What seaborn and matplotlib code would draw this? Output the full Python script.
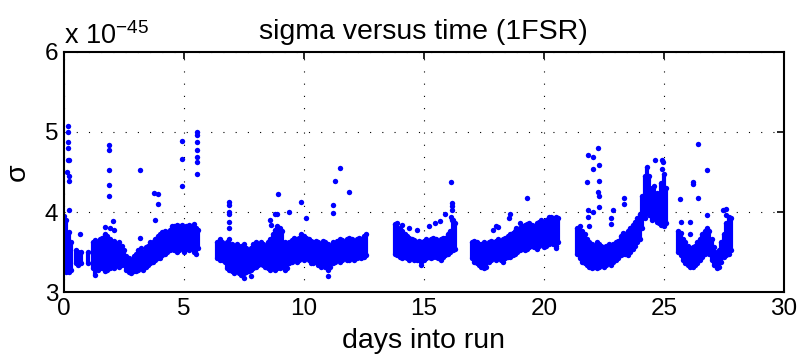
import numpy as np
import pandas as pd
import matplotlib
matplotlib.use('Agg')
import matplotlib.pyplot as plt
import seaborn as sns

# sampling step of the dense band (days)
step = 0.1

# band of the dense cloud per run segment: first day, lower and upper edge (x 1e-45)
seg_start = [0.0, 6.4, 13.8, 17.0, 21.4, 25.6]
seg_lo = [
    [3.30, 3.25, 3.25, 3.28, np.nan, 3.36, 3.34, 3.36, np.nan, np.nan, 3.37, np.nan,
     3.30, 3.22, 3.28, 3.30, 3.30, 3.26, 3.28, 3.30, 3.32, 3.30, 3.34, 3.32, 3.34,
     3.36, 3.28, 3.25, 3.24, 3.26, 3.26, 3.28, 3.30, 3.28, 3.32, 3.34, 3.36, 3.38,
     3.40, 3.42, 3.42, 3.46, 3.48, 3.50, 3.52, 3.54, 3.52, 3.50, 3.52, 3.55, 3.50,
     3.54, 3.52, 3.55, 3.50, 3.48, 3.55],
    [3.42, 3.40, 3.40, 3.38, 3.30, 3.28, 3.26, 3.24, 3.26, 3.24, 3.22, 3.24, 3.25,
     3.27, 3.28, 3.30, 3.32, 3.34, 3.35, 3.34, 3.32, 3.30, 3.28, 3.30, 3.28, 3.30,
     3.30, 3.32, 3.28, 3.30, 3.36, 3.38, 3.40, 3.38, 3.40, 3.42, 3.40, 3.42, 3.40,
     3.36, 3.36, 3.38, 3.34, 3.32, 3.34, 3.32, 3.28, 3.32, 3.36, 3.38, 3.40, 3.38,
     3.40, 3.42, 3.40, 3.40, 3.42, 3.40, 3.42, 3.44, 3.42, 3.44, 3.46],
    [3.48, 3.46, 3.44, 3.42, 3.44, 3.42, 3.40, 3.42, 3.40, 3.40, 3.40, 3.38, 3.40,
     3.42, 3.44, 3.42, 3.44, 3.44, 3.42, 3.40, 3.44, 3.46, 3.48, 3.50, 3.52, 3.54],
    [3.42, 3.38, 3.36, 3.34, 3.32, 3.30, 3.32, 3.38, 3.40, 3.42, 3.40, 3.42, 3.40,
     3.38, 3.42, 3.44, 3.44, 3.46, 3.48, 3.50, 3.52, 3.54, 3.52, 3.54, 3.56, 3.58,
     3.56, 3.54, 3.58, 3.60, 3.56, 3.58, 3.60, 3.62, 3.60, 3.58, 3.62],
    [3.48, 3.42, 3.38, 3.36, 3.34, 3.32, 3.30, 3.32, 3.30, 3.32, 3.34, 3.32, 3.34,
     3.36, 3.34, 3.38, 3.40, 3.42, 3.46, 3.48, 3.48, 3.46, 3.50, 3.54, 3.58, 3.62,
     3.66, 3.80, 3.92, 4.00, 3.96, 3.90, 3.92, 3.88, 3.86, 3.84, 3.82, 3.86],
    [3.50, 3.46, 3.40, 3.36, 3.34, 3.32, 3.32, 3.34, 3.36, 3.40, 3.44, 3.48, 3.52,
     3.48, 3.40, 3.34, 3.30, 3.32, 3.38, 3.44, 3.46, 3.48, 3.52],
]
seg_hi = [
    [3.95, 3.90, 3.75, 3.62, np.nan, 3.52, 3.50, 3.50, np.nan, np.nan, 3.50, np.nan,
     3.62, 3.65, 3.62, 3.66, 3.68, 3.72, 3.70, 3.66, 3.62, 3.64, 3.60, 3.62, 3.58,
     3.52, 3.45, 3.42, 3.40, 3.45, 3.48, 3.52, 3.55, 3.50, 3.56, 3.58, 3.62, 3.62,
     3.66, 3.70, 3.72, 3.75, 3.76, 3.75, 3.78, 3.82, 3.82, 3.84, 3.82, 3.84, 3.80,
     3.82, 3.84, 3.82, 3.85, 3.80, 3.78],
    [3.62, 3.66, 3.62, 3.60, 3.62, 3.66, 3.60, 3.58, 3.60, 3.56, 3.58, 3.60, 3.55,
     3.52, 3.55, 3.60, 3.62, 3.60, 3.62, 3.60, 3.58, 3.62, 3.66, 3.72, 3.78, 3.82,
     3.80, 3.76, 3.62, 3.58, 3.62, 3.65, 3.68, 3.66, 3.68, 3.72, 3.70, 3.68, 3.66,
     3.64, 3.62, 3.64, 3.62, 3.60, 3.64, 3.62, 3.60, 3.58, 3.62, 3.60, 3.64, 3.66,
     3.65, 3.62, 3.66, 3.68, 3.66, 3.64, 3.66, 3.68, 3.66, 3.70, 3.72],
    [3.85, 3.86, 3.80, 3.76, 3.72, 3.70, 3.68, 3.66, 3.65, 3.62, 3.64, 3.62, 3.64,
     3.66, 3.64, 3.66, 3.68, 3.66, 3.64, 3.66, 3.68, 3.68, 3.72, 3.76, 3.90, 3.86],
    [3.62, 3.64, 3.62, 3.60, 3.60, 3.62, 3.60, 3.62, 3.64, 3.62, 3.64, 3.66, 3.64,
     3.66, 3.68, 3.70, 3.72, 3.74, 3.76, 3.78, 3.80, 3.82, 3.84, 3.85, 3.86, 3.84,
     3.82, 3.86, 3.88, 3.90, 3.88, 3.90, 3.94, 3.94, 3.92, 3.94, 3.92],
    [3.80, 3.82, 3.76, 3.72, 3.66, 3.62, 3.60, 3.58, 3.62, 3.60, 3.58, 3.56, 3.58,
     3.60, 3.58, 3.60, 3.62, 3.64, 3.70, 3.74, 3.72, 3.76, 3.80, 3.84, 3.88, 3.92,
     3.98, 4.20, 4.45, 4.56, 4.45, 4.30, 4.32, 4.24, 4.20, 4.36, 4.48, 4.30],
    [3.76, 3.74, 3.66, 3.62, 3.58, 3.55, 3.56, 3.58, 3.62, 3.66, 3.72, 3.76, 3.80,
     3.76, 3.66, 3.56, 3.50, 3.52, 3.62, 3.72, 3.86, 3.94, 3.92],
]

# isolated points above / below the cloud
out_day = [0.18, 0.18, 0.18, 0.18, 0.15, 0.2, 0.12, 0.2, 0.22, 0.2,
           1.89, 1.89, 1.89, 1.89, 1.89, 3.17, 3.76, 3.93, 3.93, 3.8,
           4.94, 4.94, 4.94, 5.56, 5.56, 5.56, 5.56, 5.56, 5.56, 5.56,
           2.05, 1.7, 1.9, 2.1, 0.67, 3.17,
           6.89, 6.89, 6.87, 6.9, 6.87, 6.89, 8.93, 8.79, 8.9, 9.39, 9.88, 10.08,
           11.2, 11.29, 11.5, 11.89, 11.2, 7.5, 7.8, 11.01, 8.6, 8.62,
           16.15, 16.17, 16.17, 16.17, 16.15, 16.17, 15.9, 15.66, 15.45, 15.2,
           14.4, 14.7, 14.1, 14.87,
           19.3, 18.6, 18.55, 18.0, 17.9, 18.1, 18.85, 19.0, 20.5,
           22.26, 21.85, 22.05, 22.3, 22.05, 21.8, 22.3, 22.25, 22.28, 21.85,
           21.83, 22.05, 22.3, 22.9, 23.35, 23.35, 21.9, 22.8, 22.8,
           24.93, 24.96, 24.62, 24.93,
           26.43, 26.8, 26.2, 26.2, 25.66, 26.43, 25.7, 26.1, 26.1, 26.8,
           27.45, 27.6, 27.6]
out_sigma = [5.07, 5.0, 4.88, 4.80, 4.65, 4.65, 4.50, 4.45, 4.39, 4.03,
             4.84, 4.78, 4.52, 4.34, 4.20, 4.52, 4.24, 4.22, 4.10, 3.90,
             4.89, 4.66, 4.33, 5.0, 4.96, 4.88, 4.77, 4.69, 4.63, 4.48,
             3.89, 3.81, 3.80, 3.77, 3.73, 3.68,
             4.13, 4.09, 4.0, 3.97, 3.87, 3.80, 4.22, 3.98, 3.98, 4.0, 4.12, 3.93,
             4.09, 4.39, 4.55, 4.25, 3.99, 3.18, 3.20, 3.20, 3.90, 3.84,
             4.38, 4.11, 4.07, 4.03, 3.94, 3.90, 3.97, 3.89, 3.86, 3.83,
             3.80, 3.77, 3.84, 3.34,
             4.18, 3.98, 3.92, 3.82, 3.77, 3.81, 3.80, 3.86, 3.55,
             4.80, 4.71, 4.69, 4.59, 4.54, 4.37, 4.39, 4.25, 4.20, 4.03,
             3.94, 4.0, 4.06, 4.02, 4.18, 4.10, 3.82, 3.92, 3.85,
             4.65, 4.63, 4.65, 4.54,
             4.85, 4.53, 4.38, 4.35, 4.16, 4.17, 3.88, 3.87, 3.72, 3.96,
             4.03, 4.04, 3.96]

rows = []
for start, lo, hi in zip(seg_start, seg_lo, seg_hi):
    days = start + step * np.arange(len(lo))
    for d, a, b in zip(days, lo, hi):
        if not np.isnan(a):
            rows.append((d, a, b))
band = pd.DataFrame(rows, columns=['day', 'lo', 'hi'])
edges = pd.concat([band[['day', 'lo']].rename(columns={'lo': 'sigma'}),
                   band[['day', 'hi']].rename(columns={'hi': 'sigma'}),
                   pd.DataFrame({'day': out_day, 'sigma': out_sigma})])

sns.set_style('white')
plt.rcParams['font.family'] = ['Liberation Sans', 'DejaVu Sans']
plt.rcParams['mathtext.fontset'] = 'custom'
plt.rcParams['mathtext.rm'] = 'Liberation Sans'
plt.rcParams['mathtext.it'] = 'Liberation Sans'
plt.rcParams['text.color'] = 'black'
plt.rcParams['axes.labelcolor'] = 'black'

fig = plt.figure(figsize=(7.99, 3.58), dpi=100)
ax = fig.add_axes([0.080, 0.184, 0.901, 0.671])

ax.vlines(band['day'], band['lo'], band['hi'], color='blue', linewidth=3.0)
sns.scatterplot(data=edges, x='day', y='sigma', ax=ax, color='blue',
                s=15, linewidth=0, marker='o')

ax.set_xlim(0, 30)
ax.set_ylim(3, 6)
ax.set_xticks(range(0, 31, 5))
ax.set_yticks([3, 4, 5, 6])
ax.grid(True, linestyle=(0, (1, 10)), color='black', linewidth=0.8)
ax.tick_params(direction='in', length=5, width=1.2, top=True, right=True,
               labelsize=17.5, colors='black', pad=4)
for sp in ax.spines.values():
    sp.set_linewidth(1.5)
    sp.set_color('black')

ax.set_title('sigma versus time (1FSR)', fontsize=20.5, pad=9, color='black')
ax.set_xlabel('days into run', fontsize=20.5, labelpad=6)
ax.set_ylabel('σ', fontsize=20.5, labelpad=10)
ax.text(0.0, 1.01, r'x 10$^{-45}$', transform=ax.transAxes, fontsize=19.5,
        ha='left', va='bottom', color='black')

fig.savefig('out.png', dpi=100)
